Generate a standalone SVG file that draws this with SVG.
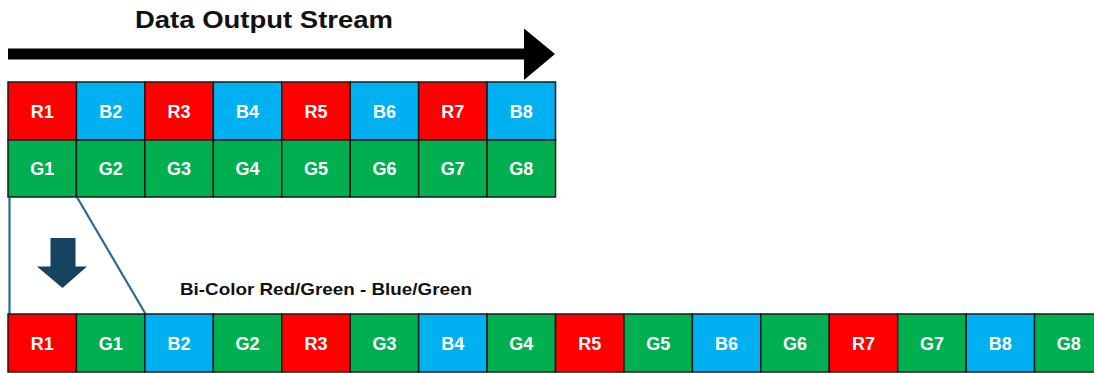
<svg xmlns="http://www.w3.org/2000/svg" width="1094" height="373" viewBox="0 0 1094 373">
<style>
.c{stroke:#1a1a1a;stroke-width:1.5}
.r{fill:#FF0000}.b{fill:#00B0F0}.g{fill:#00B050}
.t{font-family:"Liberation Sans",Arial,sans-serif;font-weight:bold;font-size:18px;fill:#ffffff;text-anchor:middle}
.h{font-family:"Liberation Sans",Arial,sans-serif;font-weight:bold;fill:#111111}
.conn{stroke:#2D6A8F;stroke-width:2.2;fill:none}
</style>
<rect width="1094" height="373" fill="#ffffff"/>
<g id="title"><text class="h" x="264" y="28" font-size="24" text-anchor="middle" textLength="258" lengthAdjust="spacingAndGlyphs">Data Output Stream</text></g>
<g id="stream-arrow"><rect x="8" y="48.5" width="518" height="11" fill="#000"/><polygon points="524,28.5 555,54 524,80" fill="#000"/></g>
<g id="top-row">
<g id="t-R1"><rect class="c r" x="8" y="82" width="68.44" height="58"/><text class="t" x="42.22" y="118">R1</text></g>
<g id="t-B2"><rect class="c b" x="76.44" y="82" width="68.44" height="58"/><text class="t" x="110.66" y="118">B2</text></g>
<g id="t-R3"><rect class="c r" x="144.88" y="82" width="68.44" height="58"/><text class="t" x="179.1" y="118">R3</text></g>
<g id="t-B4"><rect class="c b" x="213.32" y="82" width="68.44" height="58"/><text class="t" x="247.54" y="118">B4</text></g>
<g id="t-R5"><rect class="c r" x="281.76" y="82" width="68.44" height="58"/><text class="t" x="315.98" y="118">R5</text></g>
<g id="t-B6"><rect class="c b" x="350.2" y="82" width="68.44" height="58"/><text class="t" x="384.42" y="118">B6</text></g>
<g id="t-R7"><rect class="c r" x="418.64" y="82" width="68.44" height="58"/><text class="t" x="452.86" y="118">R7</text></g>
<g id="t-B8"><rect class="c b" x="487.08" y="82" width="68.44" height="58"/><text class="t" x="521.3" y="118">B8</text></g>
</g>
<g id="green-row">
<g id="t-G1"><rect class="c g" x="8" y="140" width="68.44" height="57"/><text class="t" x="42.22" y="175">G1</text></g>
<g id="t-G2"><rect class="c g" x="76.44" y="140" width="68.44" height="57"/><text class="t" x="110.66" y="175">G2</text></g>
<g id="t-G3"><rect class="c g" x="144.88" y="140" width="68.44" height="57"/><text class="t" x="179.1" y="175">G3</text></g>
<g id="t-G4"><rect class="c g" x="213.32" y="140" width="68.44" height="57"/><text class="t" x="247.54" y="175">G4</text></g>
<g id="t-G5"><rect class="c g" x="281.76" y="140" width="68.44" height="57"/><text class="t" x="315.98" y="175">G5</text></g>
<g id="t-G6"><rect class="c g" x="350.2" y="140" width="68.44" height="57"/><text class="t" x="384.42" y="175">G6</text></g>
<g id="t-G7"><rect class="c g" x="418.64" y="140" width="68.44" height="57"/><text class="t" x="452.86" y="175">G7</text></g>
<g id="t-G8"><rect class="c g" x="487.08" y="140" width="68.44" height="57"/><text class="t" x="521.3" y="175">G8</text></g>
</g>
<g id="connectors">
<line class="conn" x1="9.5" y1="197.5" x2="9.5" y2="314"/>
<line class="conn" x1="77.2" y1="197.5" x2="145.6" y2="314"/>
</g>
<g id="down-arrow"><polygon points="50.5,238 75.5,238 75.5,266.5 87,266.5 62.5,288 37,266.5 50.5,266.5" fill="#154360"/></g>
<g id="label"><text class="h" x="180" y="295" font-size="17" textLength="292" lengthAdjust="spacingAndGlyphs">Bi-Color Red/Green - Blue/Green</text></g>
<g id="bottom-row">
<g id="b-R1"><rect class="c r" x="8" y="314" width="68.44" height="58"/><text class="t" x="42.22" y="350">R1</text></g>
<g id="b-G1"><rect class="c g" x="76.44" y="314" width="68.44" height="58"/><text class="t" x="110.66" y="350">G1</text></g>
<g id="b-B2"><rect class="c b" x="144.88" y="314" width="68.44" height="58"/><text class="t" x="179.1" y="350">B2</text></g>
<g id="b-G2"><rect class="c g" x="213.32" y="314" width="68.44" height="58"/><text class="t" x="247.54" y="350">G2</text></g>
<g id="b-R3"><rect class="c r" x="281.76" y="314" width="68.44" height="58"/><text class="t" x="315.98" y="350">R3</text></g>
<g id="b-G3"><rect class="c g" x="350.2" y="314" width="68.44" height="58"/><text class="t" x="384.42" y="350">G3</text></g>
<g id="b-B4"><rect class="c b" x="418.64" y="314" width="68.44" height="58"/><text class="t" x="452.86" y="350">B4</text></g>
<g id="b-G4"><rect class="c g" x="487.08" y="314" width="68.44" height="58"/><text class="t" x="521.3" y="350">G4</text></g>
<g id="b-R5"><rect class="c r" x="555.52" y="314" width="68.44" height="58"/><text class="t" x="589.74" y="350">R5</text></g>
<g id="b-G5"><rect class="c g" x="623.96" y="314" width="68.44" height="58"/><text class="t" x="658.18" y="350">G5</text></g>
<g id="b-B6"><rect class="c b" x="692.4" y="314" width="68.44" height="58"/><text class="t" x="726.62" y="350">B6</text></g>
<g id="b-G6"><rect class="c g" x="760.84" y="314" width="68.44" height="58"/><text class="t" x="795.06" y="350">G6</text></g>
<g id="b-R7"><rect class="c r" x="829.28" y="314" width="68.44" height="58"/><text class="t" x="863.5" y="350">R7</text></g>
<g id="b-G7"><rect class="c g" x="897.72" y="314" width="68.44" height="58"/><text class="t" x="931.94" y="350">G7</text></g>
<g id="b-B8"><rect class="c b" x="966.16" y="314" width="68.44" height="58"/><text class="t" x="1000.38" y="350">B8</text></g>
<g id="b-G8"><rect class="c g" x="1034.6" y="314" width="68.44" height="58"/><text class="t" x="1068.82" y="350">G8</text></g>
</g>
</svg>
